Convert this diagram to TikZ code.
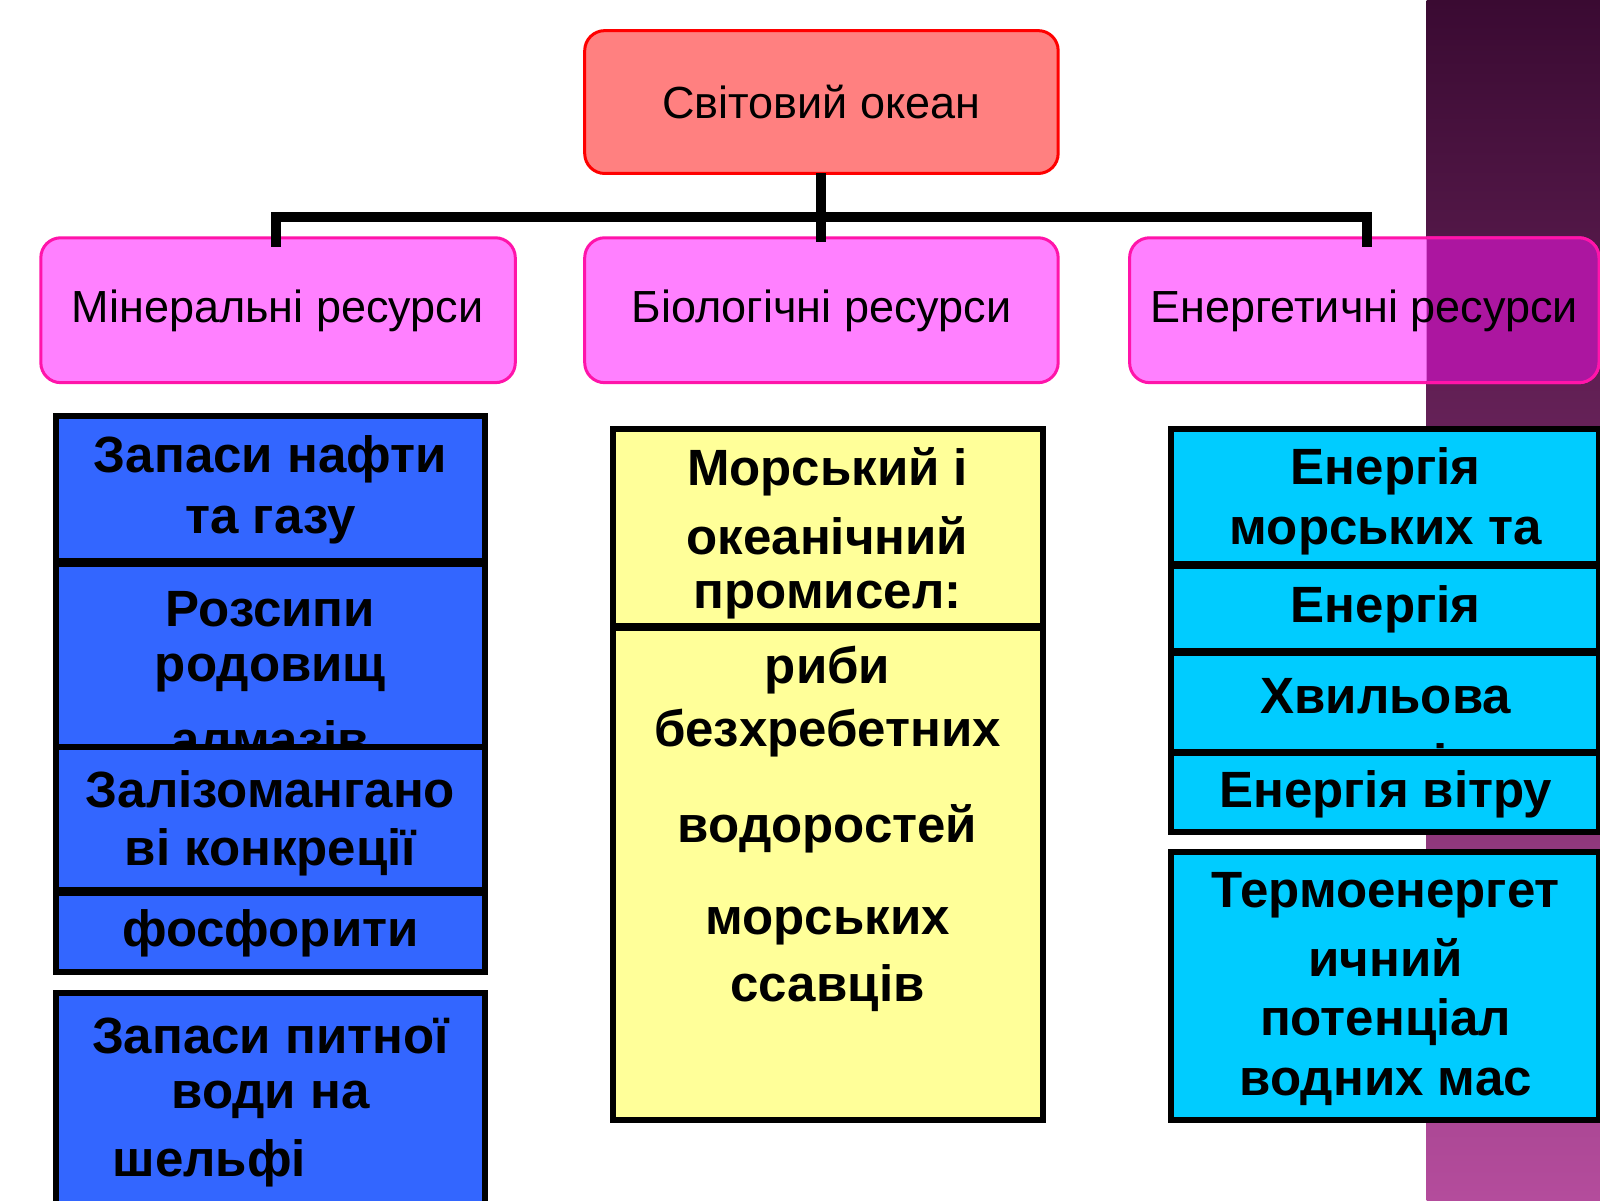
\documentclass[tikz,border=0pt]{standalone}
\usepackage{fontspec}
\setmainfont{Liberation Sans}
\begin{document}
\begin{tikzpicture}[x=0.5102pt,y=-0.5102pt,
  head/.style={draw=red,line width=1.5pt,fill={rgb,255:red,255;green,128;blue,128},rounded corners=10pt},
  cat/.style={draw={rgb,255:red,255;green,20;blue,170},line width=1.5pt,fill={rgb,255:red,255;green,128;blue,255},rounded corners=10pt},
  bx/.style={draw=black,line width=3pt},
  lbl/.style={font=\fontsize{22.5}{26}\selectfont},
  bt/.style={font=\bfseries\fontsize{25.5}{29}\selectfont,inner sep=0pt},
  conn/.style={line width=5pt}]
\useasboundingbox (0,0) rectangle (1568,1176);
\fill[white] (0,0) rectangle (1568,1176);
\definecolor{dk}{RGB}{58,10,50}\definecolor{lt}{RGB}{180,76,156}
\fill[top color=dk,bottom color=lt] (1398,0) rectangle (1568,1176);
% head
\draw[head] (573,30) rectangle (1037,170);
\node[lbl] (top) at (805,100) {Світовий океан};
\coordinate (tb) at (805,170);
\coordinate (hub) at (805,213);
\coordinate (hl) at (270,213);\coordinate (hr) at (1340,213);
\draw[cat] (40,233) rectangle (505,375);
\draw[cat] (573,233) rectangle (1037,375);
\draw[cat] (1107,233) rectangle (1567,375);
\begin{scope}
\clip (1398,0) rectangle (1600,1200);
\draw[cat,fill={rgb,255:red,172;green,22;blue,160}] (1107,233) rectangle (1567,375);
\end{scope}
\node[lbl] (m) at (272,305) {Мінеральні ресурси};
\node[lbl] (b) at (805,305) {Біологічні ресурси};
\node[lbl] (e) at (1337,305) {Енергетичні ресурси};
\coordinate (ml) at (270,237);\coordinate (bl) at (805,237);\coordinate (el) at (1340,237);
\draw[conn] (tb) -- (hub);
\draw[conn,line cap=rect] (ml) -- (hl) -- (hr) -- (el);
\draw[conn] (hub) -- (bl);
\newcommand{\mybox}[6]{%
  \begin{scope}\clip (#1,#2) rectangle (#3,#4);\fill[#5] (#1,#2) rectangle (#3,#4);#6\end{scope}
  \draw[bx] (#1,#2) rectangle (#3,#4);}
\definecolor{bl}{RGB}{51,102,255}\definecolor{yl}{RGB}{255,255,153}\definecolor{cy}{RGB}{0,204,255}
\mybox{55}{408}{475}{550}{bl}{\node[bt] (m1) at (265,450){Запаси нафти};\node[bt] at (265,515){та газу};}
\mybox{55}{553}{475}{732}{bl}{\node[bt] (m2) at (265,597){Розсипи};\node[bt] at (265,660){родовищ};\node[bt] at (265,724){алмазів};}
\mybox{55}{732}{475}{872}{bl}{\node[bt] (m3) at (265,773){Залізомангано};\node[bt] at (265,835){ві конкреції};}
\mybox{55}{875}{475}{953}{bl}{\node[bt] (m4) at (265,915){фосфорити};}
\mybox{55}{973}{475}{1180}{bl}{\node[bt] (m5) at (265,1015){Запаси питної};\node[bt] at (265,1078){води на};\node[bt,anchor=west] at (110,1140){шельфі};}
\mybox{601}{420}{1022}{613}{yl}{\node[bt] (b1) at (811,462){Морський і};\node[bt] at (811,525){океанічний};\node[bt] at (811,588){промисел:};}
\mybox{601}{615}{1022}{1098}{yl}{\node[bt] (b2) at (811,657){риби};\node[bt] at (811,718){безхребетних};\node[bt] at (811,812){водоростей};\node[bt] at (811,907){морських};\node[bt] at (811,968){ссавців};}
\mybox{1148}{420}{1567}{553}{cy}{\node[bt] (e1) at (1358,462){Енергія};\node[bt] at (1358,525){морських та};}
\mybox{1148}{555}{1567}{638}{cy}{\node[bt] (e2) at (1358,597){Енергія};}
\mybox{1148}{640}{1567}{737}{cy}{\node[bt] (e3) at (1358,682){Хвильова};\node[bt] at (1358,752){енергія};}
\mybox{1148}{738}{1567}{815}{cy}{\node[bt] (e4) at (1358,778){Енергія вітру};}
\mybox{1148}{835}{1567}{1098}{cy}{\node[bt] (e5) at (1358,877){Термоенергет};\node[bt] at (1358,938){ичний};\node[bt] at (1358,1002){потенціал};\node[bt] at (1358,1065){водних мас};}
\end{tikzpicture}
\end{document}
